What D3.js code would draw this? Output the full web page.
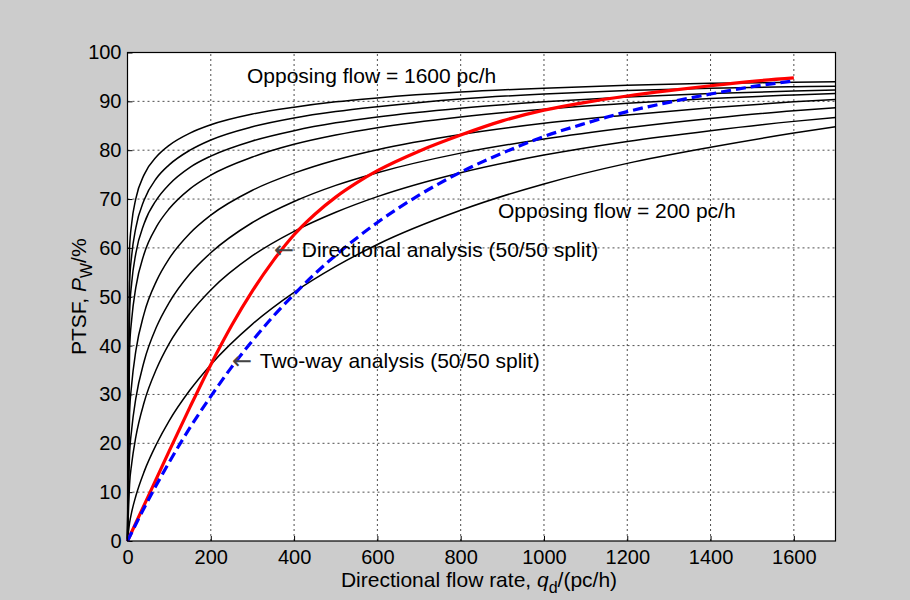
<!DOCTYPE html>
<html>
<head>
<meta charset="utf-8">
<script src="https://cdn.jsdelivr.net/npm/d3@7"></script>
<style>
  html, body { margin: 0; padding: 0; background: #cccccc; }
  svg { display: block; font-family: "Liberation Sans", Arial, Helvetica, sans-serif; }
</style>
</head>
<body>
<div id="chart"></div>
<script>
// x positions (directional flow rate, pc/h) where the black curves were read
let flowX = [0, 5, 10, 20, 40, 70, 100, 150, 200, 300, 400, 500, 600, 800, 1000, 1200, 1400, 1600, 1700];

// opposing flow curves, PTSF values read at flowX
let opposing = [200, 400, 600, 800, 1000, 1200, 1400, 1600];
let ptsf200  = [0, 3.7, 5.9, 9.2, 14.2, 19.9, 24.6, 30.9, 36.1, 44.4, 50.9, 56.2, 60.7, 67.7, 73.1, 77.3, 80.6, 83.5, 84.8];
let ptsf400  = [0, 11.6, 15.8, 21.3, 28.4, 35.3, 40.4, 46.6, 51.4, 58.4, 63.4, 67.3, 70.5, 75.4, 79.0, 81.8, 84.0, 85.9, 86.7];
let ptsf600  = [0, 17.7, 22.8, 29.2, 36.8, 43.9, 48.8, 54.7, 59.0, 65.2, 69.5, 72.8, 75.4, 79.4, 82.3, 84.6, 86.5, 88.1, 88.7];
let ptsf800  = [0, 26.2, 32.0, 38.9, 46.6, 53.3, 57.8, 63.0, 66.7, 71.8, 75.3, 78.0, 80.1, 83.2, 85.5, 87.2, 88.7, 89.9, 90.4];
let ptsf1000 = [0, 39.3, 45.3, 51.9, 58.8, 64.4, 68.0, 72.1, 74.9, 78.6, 81.2, 83.1, 84.6, 86.8, 88.4, 89.6, 90.6, 91.3, 91.6];
let ptsf1200 = [0, 47.0, 52.8, 58.9, 65.0, 69.9, 73.0, 76.5, 78.8, 81.9, 84.0, 85.6, 86.8, 88.6, 89.9, 90.9, 91.6, 92.1, 92.3];
let ptsf1400 = [0, 52.8, 58.4, 64.1, 69.8, 74.3, 77.0, 80.0, 82.1, 84.8, 86.6, 87.9, 88.9, 90.5, 91.5, 92.2, 92.7, 93.0, 93.1];
let ptsf1600 = [0, 60.0, 65.0, 70.1, 75.0, 78.7, 81.0, 83.5, 85.2, 87.4, 88.8, 89.9, 90.7, 91.9, 92.7, 93.3, 93.7, 93.9, 94.0];

// 50/50 split curves
let splitX      = [0, 50, 100, 150, 200, 250, 300, 350, 400, 450, 500, 550, 600, 700, 800, 900, 1000, 1100, 1200, 1300, 1400, 1500, 1600];
let directional = [0, 9.2, 18.4, 27.4, 36.1, 44.1, 51.2, 57.4, 62.7, 66.9, 70.4, 73.3, 75.8, 79.8, 83.1, 86.0, 88.2, 89.8, 91.1, 92.2, 93.2, 94.1, 94.8];
let twoWay      = [0, 8.4, 16.1, 23.2, 29.6, 35.6, 41.0, 46.0, 50.5, 54.7, 58.5, 62.0, 65.2, 70.8, 75.5, 79.4, 82.8, 85.5, 87.9, 89.8, 91.5, 93.0, 94.2];

let xTicks = [0, 200, 400, 600, 800, 1000, 1200, 1400, 1600];
let yTicks = [0, 10, 20, 30, 40, 50, 60, 70, 80, 90, 100];

let width = 910, height = 600,
    margin = ({top: 52.5, right: 74.5, bottom: 59, left: 127.5});

let x = d3.scaleLinear().domain([0, 1700]).range([margin.left, width - margin.right]);
let y = d3.scaleLinear().domain([0, 100]).range([height - margin.bottom, margin.top]);

let svg = d3.select("#chart").append("svg")
    .attr("width", width).attr("height", height);

svg.append("rect").attr("width", width).attr("height", height).attr("fill", "#cccccc");
svg.append("rect")
    .attr("x", x(0)).attr("y", y(100))
    .attr("width", x(1700) - x(0)).attr("height", y(0) - y(100))
    .attr("fill", "#fff");

// grid
let grid = svg.append("g").attr("stroke", "#222").attr("stroke-width", 0.8).attr("stroke-dasharray", "2,3");
grid.selectAll(".gx").data(xTicks.filter(d => d > 0)).join("line")
    .attr("x1", d => x(d)).attr("x2", d => x(d))
    .attr("y1", y(0)).attr("y2", y(100));
grid.selectAll(".gy").data(yTicks.filter(d => d > 0 && d < 100)).join("line")
    .attr("x1", x(0)).attr("x2", x(1700))
    .attr("y1", d => y(d)).attr("y2", d => y(d));

let xAxis = g => g
    .attr("transform", `translate(0,${y(0)})`)
    .call(d3.axisBottom(x).tickValues(xTicks).tickFormat(d3.format("d"))
        .tickSize(-5).tickPadding(9).tickSizeOuter(0))
    .call(g => g.select(".domain").remove());
let yAxis = g => g
    .attr("transform", `translate(${x(0)},0)`)
    .call(d3.axisLeft(y).tickValues(yTicks).tickSize(-5).tickPadding(6).tickSizeOuter(0))
    .call(g => g.select(".domain").remove());

svg.append("g").call(xAxis);
svg.append("g").call(yAxis);
svg.selectAll(".tick text").attr("font-size", 20).attr("fill", "#000")
    .attr("font-family", "Liberation Sans, Arial, sans-serif");

let line = d3.line().x(d => x(d[0])).y(d => y(d[1])).curve(d3.curveMonotoneX);

let curves = [ptsf200, ptsf400, ptsf600, ptsf800, ptsf1000, ptsf1200, ptsf1400, ptsf1600];
let plot = svg.append("g");
plot.selectAll(".opp").data(curves).join("path")
    .attr("fill", "none").attr("stroke", "#000").attr("stroke-width", 1.5)
    .attr("d", vals => line(flowX.map((f, i) => [f, vals[i]])));

plot.append("path")
    .attr("fill", "none").attr("stroke", "#ff0000").attr("stroke-width", 3.2)
    .attr("d", line(splitX.map((f, i) => [f, directional[i]])));
plot.append("path")
    .attr("fill", "none").attr("stroke", "#0000ff").attr("stroke-width", 3.2)
    .attr("stroke-dasharray", "10,5")
    .attr("d", line(splitX.map((f, i) => [f, twoWay[i]])));

// box
svg.append("rect")
    .attr("x", x(0)).attr("y", y(100))
    .attr("width", x(1700) - x(0)).attr("height", y(0) - y(100))
    .attr("fill", "none").attr("stroke", "#000").attr("stroke-width", 1.2);

// annotations
let note = (tx, ty, str, arrow) => {
    let t = svg.append("text")
        .attr("x", tx).attr("y", ty).attr("font-size", 21).attr("fill", "#000")
        .attr("dominant-baseline", "middle");
    if (arrow) t.append("tspan").attr("font-family", "DejaVu Sans").attr("font-size", 24)
        .attr("fill", "#444").text("\u2190 ");
    t.append("tspan").text(str);
};
note(247, 77, "Opposing flow = 1600 pc/h");
note(498, 212, "Opposing flow = 200 pc/h");
note(274, 251, "Directional analysis (50/50 split)", true);
note(232, 362, "Two-way analysis (50/50 split)", true);

// axis titles
let xt = svg.append("text")
    .attr("x", 479).attr("y", 587)
    .attr("text-anchor", "middle").attr("font-size", 21).attr("fill", "#000");
xt.append("tspan").text("Directional flow rate, ");
xt.append("tspan").attr("font-style", "italic").text("q");
xt.append("tspan").attr("font-size", 16).attr("dy", 6).text("d");
xt.append("tspan").attr("dy", -6).text("/(pc/h)");

let yt = svg.append("text")
    .attr("transform", `translate(86,${(y(0) + y(100)) / 2}) rotate(-90)`)
    .attr("text-anchor", "middle").attr("font-size", 21).attr("fill", "#000");
yt.append("tspan").text("PTSF, ");
yt.append("tspan").attr("font-style", "italic").text("P");
yt.append("tspan").attr("font-size", 16).attr("dy", 6).text("W");
yt.append("tspan").attr("dy", -6).text("/%");
</script>
</body>
</html>
